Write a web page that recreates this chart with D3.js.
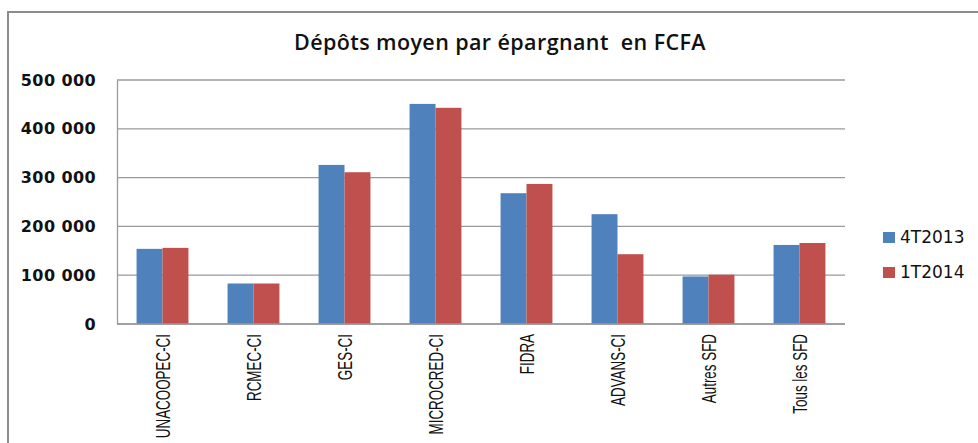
<!DOCTYPE html>
<html>
<head>
<meta charset="utf-8">
<script src="https://cdn.jsdelivr.net/npm/d3@7"></script>
<style>
  body { margin: 0; background: #fff; }
  svg { display: block; }
</style>
</head>
<body>
<svg id="chart" width="978" height="443"></svg>
<script>
"use strict";

// values (FCFA)
var categories = ["UNACOOPEC-CI", "RCMEC-CI", "GES-CI", "MICROCRED-CI", "FIDRA", "ADVANS-CI", "Autres SFD", "Tous les SFD"];
var series = ["4T2013", "1T2014"];
var values4T2013 = [154000, 83000, 326000, 451000, 268000, 225000, 97500, 162000];
var values1T2014 = [156000, 83000, 311000, 443000, 287000, 143000, 101000, 166000];
var yTicks = [0, 100000, 200000, 300000, 400000, 500000];
var colors = ["#4F81BD", "#C0504D"];

var svg = d3.select("#chart");
var plotLeft = 117, plotRight = 845, plotTop = 80, plotBottom = 324;

//outer frame of the chart, cut by the window on the right and bottom
svg.append("rect")
	.attr("x", 8)
	.attr("y", 12)
	.attr("width", 990)
	.attr("height", 460)
	.style("fill", "none")
	.style("stroke", "#8c8c8c")
	.style("stroke-width", "2px");

//title keeps the double space before "en"
svg.append("text")
	.attr("x", 500)
	.attr("y", 50)
	.attr("text-anchor", "middle")
	.style("white-space", "pre")
	.style("font-family", "Open Sans")
	.style("font-weight", "600")
	.style("font-size", "21.5px")
	.style("letter-spacing", "0.4px")
	.style("fill", "#111")
	.text("Dépôts moyen par épargnant  en FCFA");

var x = d3.scaleBand().domain(categories).range([plotLeft, plotRight]).paddingInner(0.43).paddingOuter(0.215);
var xs = d3.scaleBand().domain(series).range([0, x.bandwidth()]);
var y = d3.scaleLinear().domain([0, 500000]).range([plotBottom, plotTop]);

//horizontal grid lines
svg.selectAll(".grid")
	.data(yTicks)
	.enter()
	.append("line")
	.attr("class", "grid")
	.attr("x1", plotLeft)
	.attr("x2", plotRight)
	.attr("y1", function(d){ return y(d); })
	.attr("y2", function(d){ return y(d); })
	.style("stroke", "#9a9a9a")
	.style("stroke-width", "1.3px");

var yAxis = svg.append("g")
	.attr("transform", "translate(" + plotLeft + ",0)")
	.call(d3.axisLeft(y).tickValues(yTicks).tickSize(0).tickPadding(21)
		.tickFormat(function(d){ return d3.format(",")(d).replace(/,/g, " "); }));
yAxis.select(".domain").style("stroke", "#9a9a9a").style("stroke-width", "1.3px");
yAxis.selectAll("text")
	.style("font-family", "DejaVu Sans")
	.style("font-weight", "bold")
	.style("font-size", "16px")
	.style("letter-spacing", "0.4px")
	.style("fill", "#111");

var rows = categories.map(function(c, i){ return { cat: c, vals: [values4T2013[i], values1T2014[i]] }; });

var groups = svg.selectAll(".cat")
	.data(rows)
	.enter()
	.append("g")
	.attr("class", "cat")
	.attr("transform", function(d){ return "translate(" + x(d.cat) + ",0)"; });

groups.selectAll("rect")
	.data(function(d){ return d.vals.map(function(v, j){ return { s: series[j], v: v, j: j }; }); })
	.enter()
	.append("rect")
	.attr("x", function(d){ return xs(d.s); })
	.attr("width", xs.bandwidth())
	.attr("y", function(d){ return y(d.v); })
	.attr("height", function(d){ return y(0) - y(d.v); })
	.style("fill", function(d){ return colors[d.j]; });

//bottom axis line
svg.append("line")
	.attr("x1", plotLeft)
	.attr("x2", plotRight)
	.attr("y1", y(0))
	.attr("y2", y(0))
	.style("stroke", "#9a9a9a")
	.style("stroke-width", "1.5px");

//rotated category labels, squeezed along the text like the original
svg.selectAll(".catLabel")
	.data(categories)
	.enter()
	.append("text")
	.attr("class", "catLabel")
	.attr("text-anchor", "end")
	.attr("transform", function(d){ return "translate(" + (x(d) + x.bandwidth()/2) + "," + 334 + ") rotate(-90) scale(0.67,1)"; })
	.attr("dy", "0.36em")
	.style("font-family", "Liberation Sans")
	.style("font-size", "20px")
	.style("fill", "#111")
	.text(function(d){ return d; });

var legend = svg.selectAll(".legend")
	.data(series)
	.enter()
	.append("g")
	.attr("class", "legend")
	.attr("transform", function(d, i){ return "translate(883," + (232 + i*35) + ")"; });

legend.append("rect")
	.attr("width", 12)
	.attr("height", 11)
	.style("fill", function(d, i){ return colors[i]; });

legend.append("text")
	.attr("x", 17)
	.attr("y", 11)
	.style("font-family", "DejaVu Sans")
	.style("font-size", "17px")
	.style("fill", "#111")
	.text(function(d){ return d; });
</script>
</body>
</html>
